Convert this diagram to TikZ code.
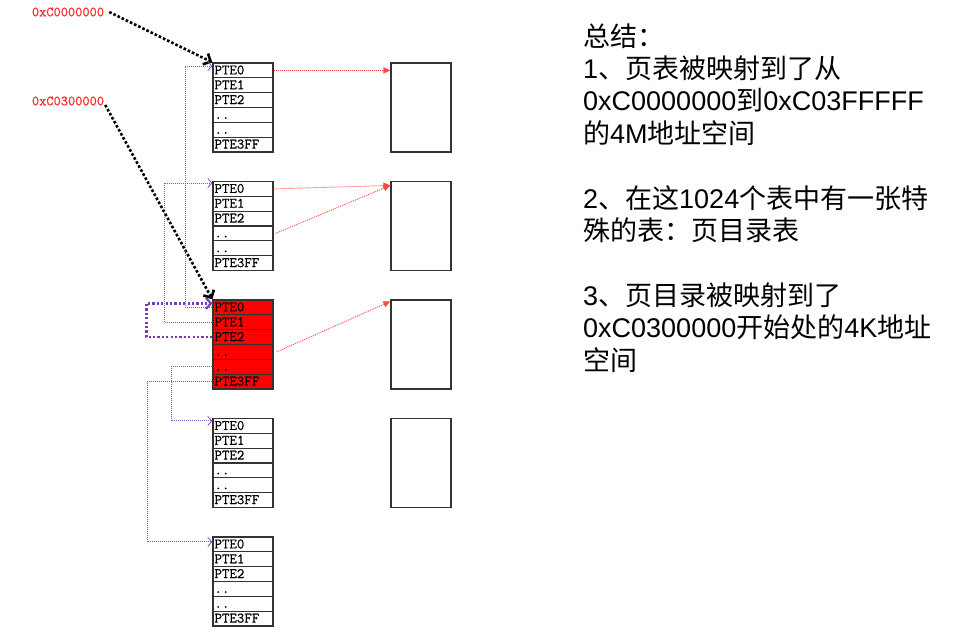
\documentclass[tikz,border=0pt]{standalone}
\usepackage{fontspec}
\setmainfont{Liberation Sans}
\newfontfamily\cjk{Noto Sans CJK SC}
\newfontfamily\ptefont[FakeBold=0.8]{Latin Modern Mono}
\usetikzlibrary{arrows.meta}
\definecolor{pur}{RGB}{145,85,195}
\definecolor{dpur}{RGB}{120,60,180}
\definecolor{lred}{RGB}{255,70,70}
\definecolor{labred}{RGB}{255,40,40}
\begin{document}
\begin{tikzpicture}[x=1pt,y=-1pt,
  row/.style={draw=black!80, line width=1.2pt, minimum width=60pt, minimum height=14.83pt,
    inner xsep=1.5pt, inner ysep=0pt, text width=57pt, align=left, text height=8pt, text depth=0pt,
    font=\ptefont\fontsize{14.5}{14.5}\selectfont},
  redrow/.style={row, fill=red},
  pbox/.style={draw=black!80, line width=1.2pt, minimum width=60pt, minimum height=89pt, inner sep=0pt},
  lab/.style={text=labred, inner sep=1pt, font=\ptefont\fontsize{14}{14}\selectfont},
  txt/.style={anchor=base west, inner sep=0pt, font=\fontsize{27}{32}\selectfont},
  purarr/.style={draw=pur, line width=0.9pt, dash pattern=on 1pt off 1pt, -{Straight Barb[length=4pt,width=9pt]}},
  thickpur/.style={draw=dpur, line width=2.2pt, dash pattern=on 2.2pt off 2.2pt, -{Straight Barb[length=5pt,width=11pt]}},
  redarr/.style={draw=lred, line width=0.9pt, dash pattern=on 1pt off 1pt, -{Triangle[length=7pt,width=6pt]}},
  blkarr/.style={draw=black, line width=2.6pt, dash pattern=on 2.6pt off 2pt, -{Straight Barb[length=6pt,width=12pt]}}
]
\useasboundingbox (0,0) rectangle (972,643);

% page tables
\foreach \k/\T/\st in {1/63/row,2/181.5/row,3/300/redrow,4/418.5/row,5/537/row}{
  \foreach \j/\lab in {0/PTE0,1/PTE1,2/PTE2,3/..,4/..,5/PTE3FF}{
    \node[\st] (t\k-\j) at (243, \T+7.415+14.83*\j) {\lab};
  }
}

% page boxes
\node[pbox] (b1) at (421, 107.5) {};
\node[pbox] (b2) at (421, 226) {};
\node[pbox] (b3) at (421, 344.5) {};
\node[pbox] (b4) at (421, 463) {};

% address labels
\node[lab] (l1) at (68,12) {0xC0000000};
\node[lab] (l2) at (68,101) {0xC0300000};

% black arrows
\draw[blkarr] ([xshift=4pt]l1.east) -- (t1-0.north west);
\draw[blkarr] ([yshift=-4pt]l2.east) -- (t3-0.north west);

% red arrows
\draw[redarr] (t1-0.east) -- (b1.west |- t1-0.east);
\draw[redarr] (t2-0.east) -- ([yshift=-4.5pt]b2.north west);
\draw[redarr] ([xshift=2pt]t2-3.east) -- ([yshift=-4.5pt]b2.north west);
\draw[redarr] ([xshift=3pt]t3-3.east) -- ([yshift=-2pt]b3.north west);

% purple connectors
\draw[purarr] (t3-0.west) -- ++(-27,0) |- ([yshift=4.4pt]t1-0.west);
\draw[purarr] (t3-1.west) -- ++(-48,0) |- ([yshift=5.9pt]t2-0.west);
\draw[thickpur] (t3-2.west) -- ++(-66,0) |- ([yshift=4pt]t3-0.west);
\draw[purarr] (t3-4.west) -- ++(-41,0) |- ([yshift=5pt]t4-0.west);
\draw[purarr] (t3-5.west) -- ++(-65,0) |- ([yshift=2.5pt]t5-0.west);

% summary text
\node[txt] (s1) at (583,46) {{\cjk 总结：}};
\node[txt] (s2) at (583,78.4) {1{\cjk 、页表被映射到了从}};
\node[txt] (s3) at (583,110.8) {0xC0000000{\cjk 到}0xC03FFFFF};
\node[txt] (s4) at (583,143.2) {{\cjk 的}4M{\cjk 地址空间}};
\node[txt] (s5) at (583,208) {2{\cjk 、在这}1024{\cjk 个表中有一张特}};
\node[txt] (s6) at (583,240.4) {{\cjk 殊的表：页目录表}};
\node[txt] (s7) at (583,305.2) {3{\cjk 、页目录被映射到了}};
\node[txt] (s8) at (583,337.6) {0xC0300000{\cjk 开始处的}4K{\cjk 地址}};
\node[txt] (s9) at (583,370) {{\cjk 空间}};
\end{tikzpicture}
\end{document}
